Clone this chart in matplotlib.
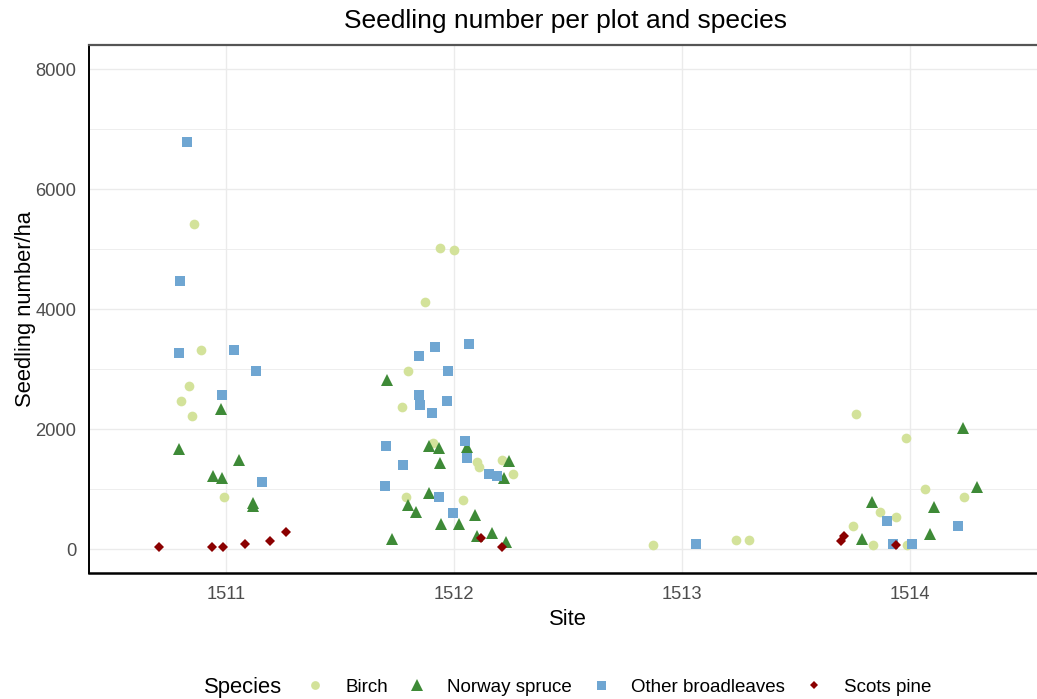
import numpy as np
import matplotlib
matplotlib.use("Agg")
import matplotlib.pyplot as plt
from matplotlib.lines import Line2D

plt.rcParams['font.family'] = ['Liberation Sans', 'DejaVu Sans']

# Sites on the x axis
sites = [1511, 1512, 1513, 1514]

# Jittered site positions and seedling numbers per ha
birch_x = [1510.861, 1510.893, 1510.838, 1510.804, 1510.850, 1510.993,
           1511.937, 1512.000, 1511.873, 1511.800, 1511.771, 1511.909,
           1512.100, 1512.110, 1512.210, 1512.260, 1511.790, 1512.040,
           1512.871, 1513.237, 1513.295,
           1513.762, 1513.982, 1514.066, 1514.234, 1513.867, 1513.939,
           1513.750, 1513.839, 1513.988]
birch_y = [5423, 3314, 2717, 2465, 2209, 859,
           5021, 4982, 4111, 2974, 2360, 1769,
           1451, 1367, 1479, 1255, 865, 809,
           72, 151, 151,
           2254, 1847, 1004, 859, 619, 541,
           390, 72, 72]

spruce_x = [1510.977, 1510.795, 1511.056, 1510.943, 1510.981, 1511.117, 1511.120,
            1511.705, 1511.891, 1511.933, 1512.057, 1512.243, 1511.937,
            1512.220, 1511.890, 1511.800, 1511.833, 1512.092, 1511.944,
            1512.020, 1511.730, 1512.100, 1512.168, 1512.227,
            1514.230, 1514.292, 1513.832, 1514.105, 1514.085, 1513.788]
spruce_y = [2326, 1674, 1478, 1222, 1183, 760, 720,
            2818, 1724, 1679, 1696, 1462, 1428,
            1183, 932, 731, 625, 575, 413,
            413, 167, 223, 273, 112,
            2014, 1026, 781, 708, 246, 167]

broad_x = [1510.828, 1510.800, 1510.795, 1511.035, 1511.133, 1510.982, 1511.159,
           1512.066, 1511.917, 1511.848, 1511.974, 1511.848, 1511.850,
           1511.971, 1511.905, 1512.050, 1511.702, 1512.058, 1511.776,
           1512.155, 1512.190, 1511.697, 1511.933, 1511.997,
           1513.061,
           1513.900, 1514.210, 1513.927, 1514.010]
broad_y = [6778, 4474, 3269, 3314, 2968, 2566, 1110,
           3414, 3375, 3219, 2974, 2566, 2399,
           2466, 2265, 1808, 1713, 1512, 1406,
           1255, 1210, 1054, 859, 597,
           84,
           463, 390, 84, 84]

pine_x = [1510.706, 1510.939, 1510.988, 1511.083, 1511.193, 1511.262,
          1512.117, 1512.209,
          1513.711, 1513.697, 1513.939]
pine_y = [39, 39, 39, 84, 139, 290,
          190, 28,
          223, 139, 67]

species = ['Birch', 'Norway spruce', 'Other broadleaves', 'Scots pine']
colors = ['#D3E29A', '#3E8A37', '#6FA6D2', '#8B0000']
markers = ['o', '^', 's', 'D']
sizes = [7.0, 9.0, 7.2, 4.8]

fig = plt.figure(figsize=(10.37, 6.99), dpi=100)
ax = fig.add_axes([89 / 1037, 126 / 699, (1047 - 89) / 1037, (573 - 45) / 699])

series = [(birch_x, birch_y), (spruce_x, spruce_y), (broad_x, broad_y), (pine_x, pine_y)]
for (xs, ys), c, m, s in zip(series, colors, markers, sizes):
    ax.plot(xs, ys, linestyle='none', marker=m, markersize=s, color=c,
            markeredgewidth=0, zorder=3)

# Axes configuration
ax.set_xlim(sites[0] - 0.6, sites[-1] + 0.6)
ax.set_ylim(-400, 8400)
ax.set_xticks(sites)
ax.set_xticklabels([str(s) for s in sites])
ax.set_yticks([0, 2000, 4000, 6000, 8000])
ax.set_yticks([1000, 3000, 5000, 7000], minor=True)
ax.grid(True, which='major', color='#EBEBEB', linewidth=1.0, zorder=0)
ax.grid(True, which='minor', axis='y', color='#EBEBEB', linewidth=0.6, zorder=0)
ax.set_axisbelow(True)
ax.tick_params(axis='both', which='both', length=0, labelsize=13.2, labelcolor='#4D4D4D')
ax.tick_params(axis='x', pad=9.5)
ax.tick_params(axis='y', pad=9)

for side in ['left', 'bottom']:
    ax.spines[side].set_color('black')
    ax.spines[side].set_linewidth(1.4)
ax.spines['bottom'].set_linewidth(1.8)
ax.spines['top'].set_color('#555555')
ax.spines['top'].set_linewidth(1.6)
ax.spines['right'].set_visible(False)

ax.set_xlabel('Site', fontsize=15.8, labelpad=4)
ax.set_ylabel('Seedling number/ha', fontsize=15.8, labelpad=0)
fig.text(566 / 1037, 1 - 21 / 699, 'Seedling number per plot and species',
         fontsize=19, ha='center', va='center')

# Legend at the bottom
handles = [Line2D([], [], linestyle='none', marker=m, markersize=s * 0.9, color=c,
                  markeredgewidth=0) for c, m, s in zip(colors, markers, sizes)]
fig.text(204 / 1037, 12 / 699, 'Species', fontsize=15.8, ha='left', va='center')
fig.legend(handles, species, loc='center left', bbox_to_anchor=(306 / 1037, 12 / 699),
           ncol=4, frameon=False, fontsize=13.5, handlelength=1.0, handletextpad=1.1,
           columnspacing=1.05, borderpad=0, borderaxespad=0)

fig.savefig('out.png', dpi=100)
